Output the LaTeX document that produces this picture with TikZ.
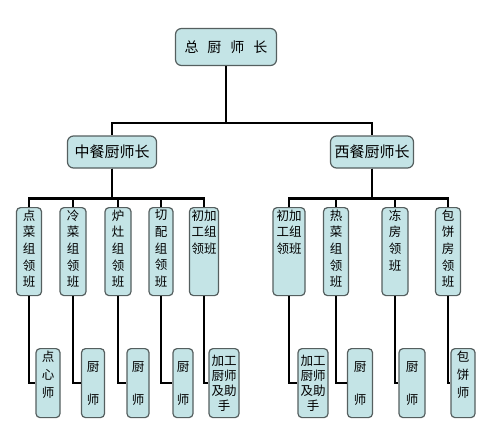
\documentclass[tikz,border=0pt]{standalone}
\usepackage{fontspec}
\setmainfont{Noto Sans CJK SC}
\definecolor{boxCyan}{RGB}{196,228,230}
\definecolor{boxEdge}{RGB}{85,95,95}
\newcommand{\ColBox}[5][t]{\parbox[c][#3][#1]{#2}{\centering\fontsize{12.5}{#4}\selectfont #5}}

\begin{document}
\begin{tikzpicture}[x=1pt,y=-1pt,
  head/.style={draw=boxEdge,fill=boxCyan,line width=1.2pt,rounded corners=6pt,inner sep=0pt},
  lead/.style={draw=boxEdge,fill=boxCyan,line width=1.2pt,rounded corners=4pt,inner xsep=0pt,inner ysep=2pt,anchor=north},
  link/.style={line width=2.7pt,black}]
\useasboundingbox (0,0) rectangle (500,432);
\node[head,minimum width=101pt,minimum height=37pt] (chef) at (226,47)
  {\fontsize{14}{16}\selectfont 总\hspace{9pt}厨\hspace{9pt}师\hspace{9pt}长};
\node[head,minimum width=89pt,minimum height=32pt] (cnChef) at (112,152)
  {\fontsize{15}{17}\selectfont 中餐厨师长};
\node[head,minimum width=83pt,minimum height=32pt] (wChef) at (372,152)
  {\fontsize{15}{17}\selectfont 西餐厨师长};

\node[lead,minimum width=25pt] (cnA) at (29,207) {\ColBox{20pt}{84pt}{16.7pt}{点\\菜\\组\\领\\班}};
\node[lead,minimum width=26pt] (cnB) at (73,207) {\ColBox{20pt}{84pt}{16.7pt}{冷\\菜\\组\\领\\班}};
\node[lead,minimum width=26pt] (cnC) at (118,207) {\ColBox{20pt}{84pt}{16.7pt}{炉\\灶\\组\\领\\班}};
\node[lead,minimum width=24pt] (cnD) at (161,207) {\ColBox{20pt}{84pt}{16.7pt}{切\\配\\组\\领\\班}};
\node[lead,minimum width=29pt] (cnE) at (204,207) {\ColBox{26pt}{84pt}{16.7pt}{初加\\工组\\领班}};
\node[lead,minimum width=32pt] (wA) at (289,207) {\ColBox{26pt}{84pt}{16.7pt}{初加\\工组\\领班}};
\node[lead,minimum width=25pt] (wB) at (336,207) {\ColBox{20pt}{84pt}{16.7pt}{热\\菜\\组\\领\\班}};
\node[lead,minimum width=26pt] (wC) at (395,207) {\ColBox{20pt}{84pt}{16.7pt}{冻\\房\\领\\班}};
\node[lead,minimum width=25pt] (wD) at (448,207) {\ColBox{20pt}{84pt}{16.7pt}{包\\饼\\房\\领\\班}};

\node[lead,minimum width=24pt] (cnA2) at (48,348) {\ColBox{20pt}{65pt}{18pt}{点\\心\\师}};
\node[lead,minimum width=23pt] (cnB2) at (93,348) {\ColBox[c]{20pt}{65pt}{33pt}{厨\\师}};
\node[lead,minimum width=22pt] (cnC2) at (138,348) {\ColBox[c]{20pt}{65pt}{33pt}{厨\\师}};
\node[lead,minimum width=20pt] (cnD2) at (183,348) {\ColBox[c]{20pt}{65pt}{33pt}{厨\\师}};
\node[lead,minimum width=30pt] (cnE2) at (224,348) {\ColBox[c]{26pt}{65pt}{15pt}{加工\\厨师\\及助\\手}};
\node[lead,minimum width=30pt] (wA2) at (313,348) {\ColBox[c]{26pt}{65pt}{15pt}{加工\\厨师\\及助\\手}};
\node[lead,minimum width=25pt] (wB2) at (360,348) {\ColBox[c]{20pt}{65pt}{33pt}{厨\\师}};
\node[lead,minimum width=26pt] (wC2) at (412,348) {\ColBox[c]{20pt}{65pt}{33pt}{厨\\师}};
\node[lead,minimum width=24pt] (wD2) at (463,348) {\ColBox{20pt}{65pt}{18pt}{包\\饼\\师}};

\foreach \n in {cnChef,wChef}
  \draw[link] (chef.south) -- ++(0,57) -| (\n.north);
\foreach \n in {cnA,cnB,cnC,cnD,cnE}
  \draw[link] (cnChef.south) -- ++(0,30) -| (\n.north);
\foreach \n in {wA,wB,wC,wD}
  \draw[link] (wChef.south) -- ++(0,30) -| (\n.north);
\foreach \n in {cnA,cnB,cnC,cnD,cnE,wA,wB,wC,wD}
  \draw[link] (\n.south) |- (\n2.west);
\end{tikzpicture}
\end{document}
